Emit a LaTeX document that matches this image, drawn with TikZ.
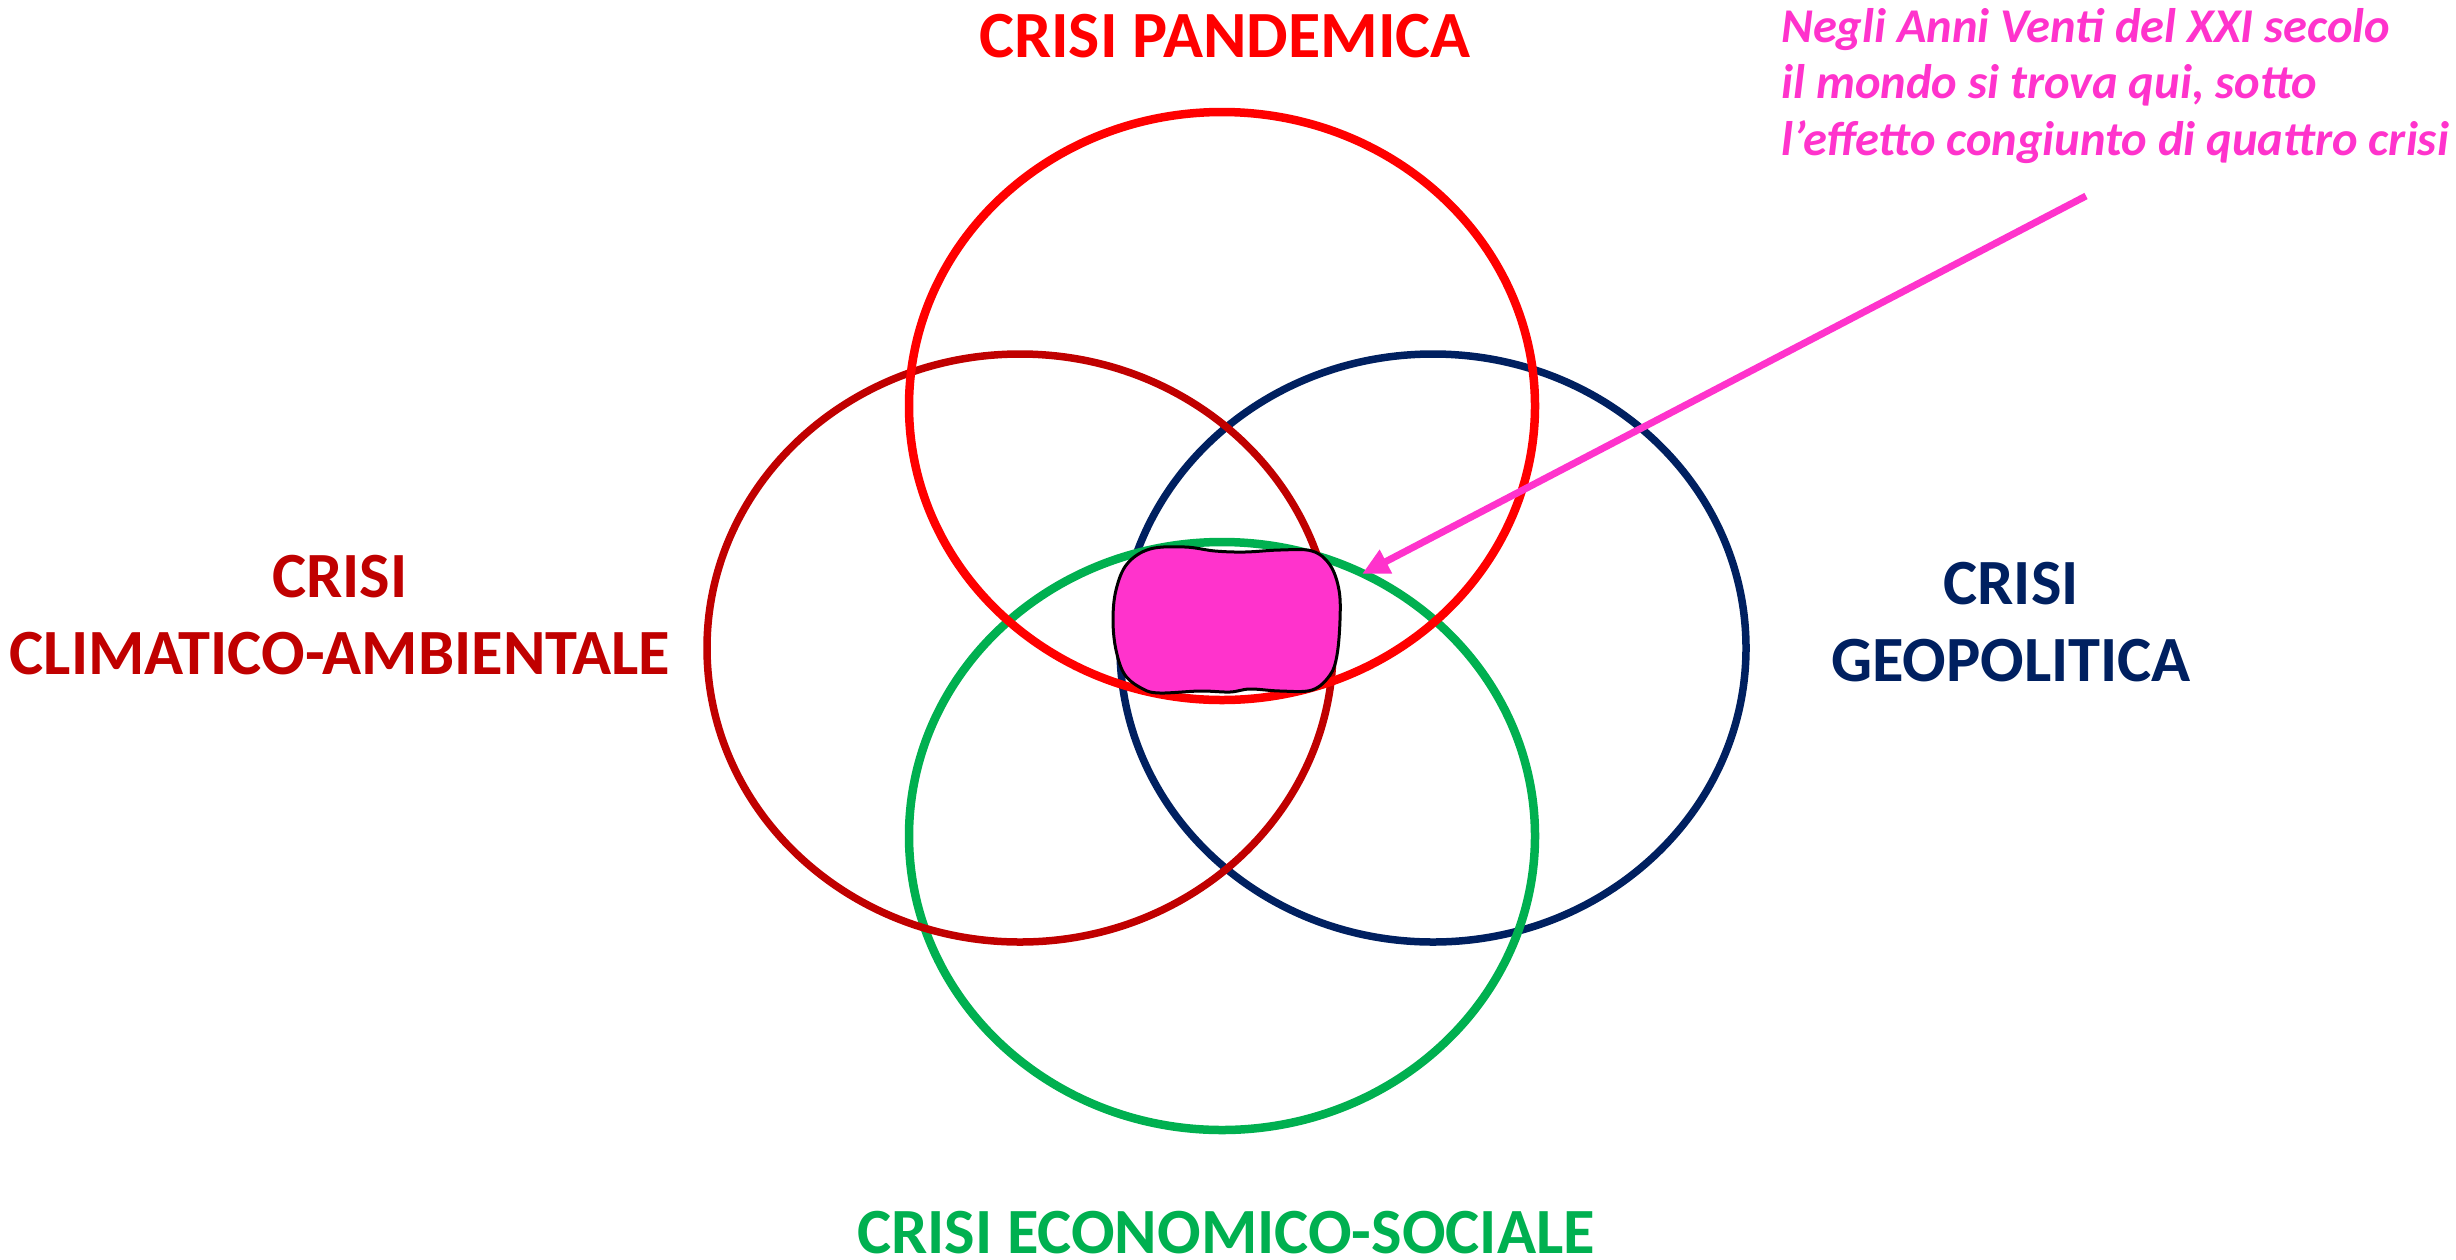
\documentclass[tikz,border=0pt]{standalone}
\usepackage{fontspec}
\setmainfont{Carlito}
\usetikzlibrary{shapes.geometric,arrows.meta}
\definecolor{cpand}{HTML}{FF0000}
\definecolor{cclim}{HTML}{C00000}
\definecolor{cgeo}{HTML}{002060}
\definecolor{ceco}{HTML}{00B050}
\definecolor{cmag}{HTML}{FF33CC}
\tikzset{
  crisis/.style={ellipse, inner sep=0, minimum width=626pt, minimum height=588pt, line width=8.5pt},
  lab/.style={font=\bfseries\fontsize{64.5}{77}\selectfont, align=center, inner sep=0pt},
  notetext/.style={font=\bfseries\itshape\fontsize{48.5}{56.5}\selectfont, align=left, inner sep=0pt, text=cmag},
  pointer/.style={draw=cmag, line width=7pt, -{Triangle[length=27pt,width=25pt]}}
}
\begin{document}
\begin{tikzpicture}[x=1pt,y=-1pt]
\useasboundingbox (0,0) rectangle (2456,1259);
% circles
\node[crisis, draw=cgeo, line width=7.5pt] (geo) at (1433,648) {};
\node[crisis, draw=ceco] (eco) at (1222,836) {};
\node[crisis, draw=cclim, line width=7.5pt] (clim) at (1020,648) {};
\node[crisis, draw=cpand] (pand) at (1222,406) {};
% centre blob
\draw[fill=cmag, draw=black, line width=3pt] plot[smooth cycle, tension=0.6] coordinates {
  (1150,549) (1185,547) (1215,551) (1245,552) (1280,550) (1312,551)
  (1330,565) (1339,590) (1340,620) (1337,655) (1330,675) (1312,690)
  (1280,691) (1250,689) (1230,692) (1200,691) (1160,693) (1143,689)
  (1125,675) (1116,650) (1113,620) (1116,590) (1127,564)};
% labels
\node[lab, font=\bfseries\fontsize{66}{77}\selectfont, text=cpand, anchor=base] (lpand) at (1225,57) {CRISI PANDEMICA};
\node[lab, text=cclim, anchor=north] (lclim) at (340,555) {CRISI\\CLIMATICO-AMBIENTALE};
\node[lab, text=cgeo, anchor=north] (lgeo) at (2011,562) {CRISI\\GEOPOLITICA};
\node[lab, text=ceco, anchor=base] (leco) at (1226,1253) {CRISI ECONOMICO-SOCIALE};
\node[notetext, anchor=base west] (note) at (1781,155) {Negli Anni Venti del XXI secolo\\il mondo si trova qui, sotto\\l’effetto congiunto di quattro crisi};
% arrow
\coordinate (astart) at (2086,196);
\coordinate (atip) at (1362,574);
\draw[pointer] (astart) -- (atip);
\end{tikzpicture}
\end{document}
